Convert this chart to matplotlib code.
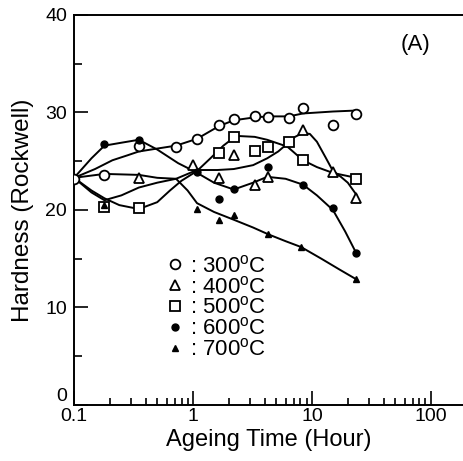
import matplotlib
matplotlib.use("Agg")
import matplotlib.pyplot as plt
from matplotlib.ticker import LogLocator, FixedLocator, NullFormatter

plt.rcParams['font.family'] = ['Liberation Sans', 'DejaVu Sans']

# measured points (hour, Rockwell hardness)
t_300 = [0.1, 0.18, 0.35, 0.72, 1.08, 1.65, 2.2, 3.3, 4.3, 6.4, 8.4, 15, 23.5]
h_300 = [23.2, 23.6, 26.6, 26.5, 27.3, 28.7, 29.3, 29.6, 29.5, 29.4, 30.5, 28.7, 29.8]

t_400 = [0.35, 1.0, 1.65, 2.2, 3.3, 4.3, 8.4, 15, 23.5]
h_400 = [23.3, 24.6, 23.3, 25.6, 22.6, 23.4, 28.2, 23.9, 21.2]

t_500 = [0.18, 0.35, 1.65, 2.2, 3.3, 4.3, 6.4, 8.4, 23.5]
h_500 = [20.3, 20.2, 25.8, 27.5, 26.1, 26.5, 27.0, 25.1, 23.2]

t_600 = [0.18, 0.35, 1.08, 1.65, 2.2, 4.3, 8.4, 15, 23.5]
h_600 = [26.8, 27.2, 23.9, 21.1, 22.2, 24.4, 22.6, 20.2, 15.6]

t_700 = [0.18, 1.08, 1.65, 2.2, 4.3, 8.1, 23.5]
h_700 = [20.5, 20.1, 19.0, 19.5, 17.5, 16.2, 12.9]

# hand drawn fit curves
c300_t = [0.1, 0.15, 0.21, 0.28, 0.35, 0.5, 0.72, 1.08, 1.65, 2.2, 3.3, 4.3, 6.4, 8.4, 15, 23.5]
c300_h = [23.3, 24.2, 25.1, 25.6, 26.0, 26.3, 26.6, 27.3, 28.6, 29.2, 29.5, 29.6, 29.6, 29.9, 30.1, 30.2]

c400_t = [0.1, 0.18, 0.35, 0.5, 0.72, 1.08, 1.6, 2.2, 3.2, 4.2, 5.2, 6.2, 7.2, 8.4, 9.6, 11, 13, 15, 17.5, 20, 23.5]
c400_h = [23.3, 23.7, 23.6, 23.3, 23.2, 24.1, 24.1, 24.2, 24.6, 25.3, 26.0, 26.8, 27.5, 27.9, 27.8, 27.0, 25.4, 24.0, 23.4, 22.8, 21.6]

c500_t = [0.1, 0.14, 0.18, 0.24, 0.35, 0.5, 0.64, 0.8, 1.08, 1.4, 1.8, 2.3, 3.3, 4.2, 6.2, 8.4, 11, 15, 23.5]
c500_h = [23.3, 22.0, 21.2, 20.5, 20.1, 20.8, 22.0, 23.0, 24.0, 25.3, 26.6, 27.6, 27.5, 27.2, 26.5, 25.1, 24.4, 23.8, 23.3]

c600_t = [0.1, 0.14, 0.18, 0.25, 0.35, 0.5, 0.75, 1.05, 1.5, 2.2, 3.2, 4.2, 6.0, 8.4, 11, 15, 19, 23.5]
c600_h = [23.3, 25.3, 26.6, 26.9, 27.2, 26.2, 24.8, 23.9, 22.8, 22.1, 22.8, 23.4, 23.2, 22.6, 21.5, 20.0, 17.8, 15.6]

c700_t = [0.1, 0.14, 0.18, 0.25, 0.35, 0.5, 0.72, 0.9, 1.08, 1.5, 2.2, 3.2, 4.3, 6.0, 8.1, 12, 17, 23.5]
c700_h = [23.3, 21.8, 21.0, 21.5, 22.3, 22.8, 23.2, 22.0, 20.7, 19.8, 19.0, 18.2, 17.5, 16.8, 16.2, 15.0, 13.9, 12.9]

labels = [': 300$^\\mathregular{o}$C', ': 400$^\\mathregular{o}$C', ': 500$^\\mathregular{o}$C',
          ': 600$^\\mathregular{o}$C', ': 700$^\\mathregular{o}$C']

fig = plt.figure(figsize=(4.63, 4.61), dpi=100)
ax = fig.add_axes([0.160, 0.1215, 0.840, 0.846])

lw = 1.4
for ct, ch in [(c300_t, c300_h), (c400_t, c400_h), (c500_t, c500_h),
               (c600_t, c600_h), (c700_t, c700_h)]:
    ax.plot(ct, ch, color='black', lw=lw, zorder=2)

open_kw = dict(linestyle='none', markerfacecolor='white', markeredgecolor='black',
               markeredgewidth=1.3, zorder=3)
h1, = ax.plot(t_300, h_300, marker='o', markersize=7, **open_kw)
h2, = ax.plot(t_400, h_400, marker='^', markersize=7, **open_kw)
h3, = ax.plot(t_500, h_500, marker='s', markersize=6.5, **open_kw)
h4, = ax.plot(t_600, h_600, marker='o', markersize=5, linestyle='none', color='black', zorder=3)
h5, = ax.plot(t_700, h_700, marker='^', markersize=5, linestyle='none', color='black', zorder=3)

ax.set_xscale('log')
ax.set_xlim(0.1, 186)
ax.set_ylim(0, 40)

ax.xaxis.set_major_locator(FixedLocator([0.1, 1, 10, 100]))
ax.xaxis.set_minor_locator(LogLocator(base=10, subs=range(2, 10)))
ax.xaxis.set_minor_formatter(NullFormatter())
ax.set_xticklabels(['0.1', '1', '10', '100'])
ax.set_yticks([0, 10, 20, 30, 40])
ax.set_yticks([5, 15, 25, 35], minor=True)

ax.tick_params(which='both', direction='in', labelsize=14, width=1.2)
ax.tick_params(which='major', length=10)
ax.tick_params(axis='x', which='major', pad=2)
ax.tick_params(axis='y', which='major', pad=5)
ax.tick_params(which='minor', length=6)
ax.tick_params(axis='x', which='minor', length=5)

# the "0" sits just above the x axis in the original
ax.yaxis.get_major_ticks()[0].label1.set_va('bottom')

for side in ['left', 'bottom', 'top']:
    ax.spines[side].set_linewidth(1.4)
ax.spines['right'].set_visible(False)

ax.set_xlabel('Ageing Time (Hour)', fontsize=17, labelpad=3)
ax.set_ylabel('Hardness (Rockwell)', fontsize=17.5, labelpad=8)

ax.text(0.877, 0.925, '(A)', transform=ax.transAxes, fontsize=16,
        ha='center', va='center')

ax.legend([h1, h2, h3, h4, h5], labels, loc='upper left',
          bbox_to_anchor=(0.207, 0.413), frameon=False, fontsize=16,
          handlelength=0.8, handletextpad=0.3, labelspacing=-0.05, borderpad=0)

fig.savefig('out.png', dpi=100)
